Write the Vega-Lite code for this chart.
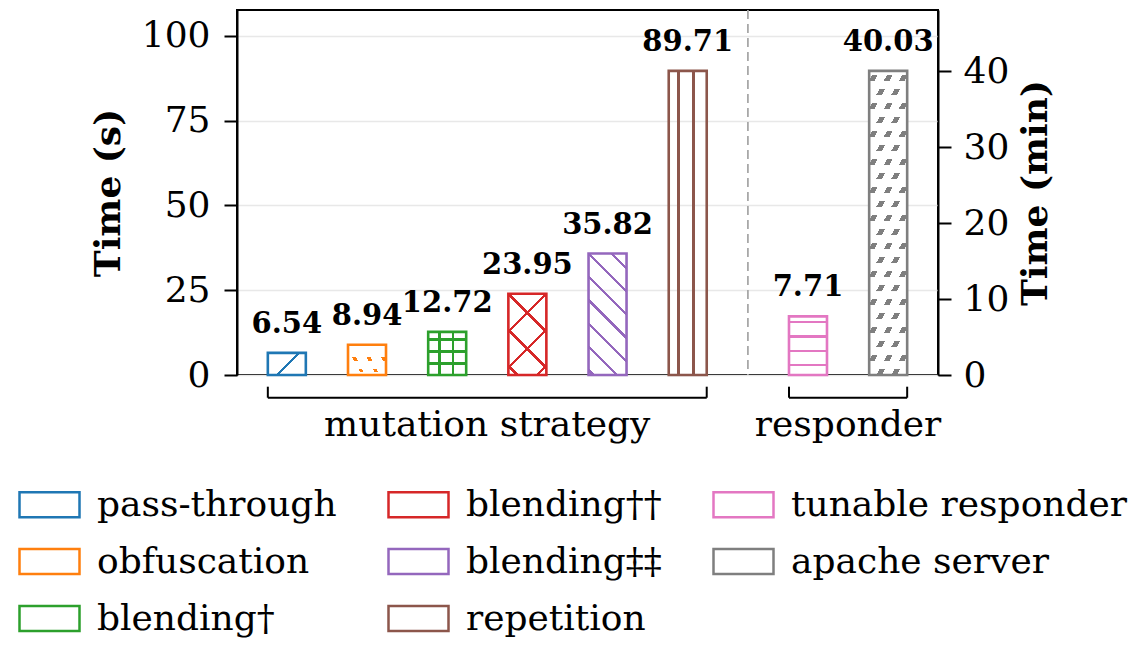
{
  "$schema": "https://vega.github.io/schema/vega-lite/v6.json",
  "width": 701,
  "height": 365,
  "autosize": "none",
  "padding": {"left": 237, "top": 10, "right": 200, "bottom": 275},
  "background": "white",
  "config": {"view": {"stroke": "black", "strokeWidth": 2}, "font": "DejaVu Serif"},
  "data": {"values": [
    {"name": "pass-through", "unit": "s", "value": 6.54},
    {"name": "obfuscation", "unit": "s", "value": 8.94},
    {"name": "blending†", "unit": "s", "value": 12.72},
    {"name": "blending††", "unit": "s", "value": 23.95},
    {"name": "blending‡‡", "unit": "s", "value": 35.82},
    {"name": "repetition", "unit": "s", "value": 89.71},
    {"name": "tunable responder", "unit": "min", "value": 7.71},
    {"name": "apache server", "unit": "min", "value": 40.03}
  ]},
  "layer": [
    {
      "transform": [{"filter": "datum.unit === 's'"}],
      "encoding": {
        "x": {"field": "name", "type": "nominal", "axis": null, "scale": {"domain": ["pass-through", "_1", "obfuscation", "_2", "blending†", "_3", "blending††", "_4", "blending‡‡", "_5", "repetition", "_6", "_7", "tunable responder", "_8", "apache server"], "paddingInner": 0, "paddingOuter": 0.743}},
        "y": {"field": "value", "type": "quantitative", "scale": {"domain": [0, 107.65], "nice": false},
          "axis": {"orient": "left", "title": "Time (s)", "values": [0, 25, 50, 75, 100], "grid": true, "gridColor": "#e8e8e8", "gridWidth": 1.5, "domainColor": "black", "domainWidth": 2, "tickColor": "black", "tickWidth": 2, "tickSize": 13, "labelFontSize": 36, "labelFont": "DejaVu Serif", "labelColor": "black", "labelPadding": 14, "titleFont": "DejaVu Serif", "titleFontSize": 36, "titleFontWeight": "bold", "titleColor": "black", "titlePadding": 14}}
      },
      "layer": [
        {"transform": [{"filter": "datum.name === 'pass-through'"}],
         "mark": {"type": "bar", "width": 38, "strokeWidth": 0, "fill": {"gradient": "linear", "x1": 0, "y1": 0, "x2": 1.1813, "y2": 0.6892, "stops": [
           {"offset": 0, "color": "rgba(255,255,255,0)"}, {"offset": 0.492, "color": "rgba(255,255,255,0)"}, {"offset": 0.492, "color": "#1f77b4"}, {"offset": 0.548, "color": "#1f77b4"}, {"offset": 0.548, "color": "rgba(255,255,255,0)"}, {"offset": 1, "color": "rgba(255,255,255,0)"}]}}},
        {"transform": [{"filter": "datum.name === 'obfuscation'"}],
         "mark": {"type": "bar", "width": 38, "strokeWidth": 0, "fill": {"gradient": "linear", "x1": 0, "y1": 0, "x2": 0, "y2": 1, "stops": [
           {"offset": 0, "color": "rgba(255,255,255,0)"}, {"offset": 0.4124, "color": "rgba(255,255,255,0)"}, {"offset": 0.4124, "color": "#ff7f0e"}, {"offset": 0.5312, "color": "#ff7f0e"}, {"offset": 0.5312, "color": "rgba(255,255,255,0)"}, {"offset": 0.7984, "color": "rgba(255,255,255,0)"}, {"offset": 0.7984, "color": "#ff7f0e"}, {"offset": 0.9172, "color": "#ff7f0e"}, {"offset": 0.9172, "color": "rgba(255,255,255,0)"}, {"offset": 1, "color": "rgba(255,255,255,0)"}]}}},
        {"transform": [{"filter": "datum.name === 'obfuscation'"}],
         "mark": {"type": "bar", "width": 38, "strokeWidth": 0, "fill": {"gradient": "linear", "x1": 0, "y1": 1, "x2": 1.2071, "y2": 0.5062, "stops": [
           {"offset": 0, "color": "white"}, {"offset": 0.2503, "color": "white"}, {"offset": 0.2503, "color": "rgba(255,255,255,0)"}, {"offset": 0.3179, "color": "rgba(255,255,255,0)"}, {"offset": 0.3179, "color": "white"}, {"offset": 0.5211, "color": "white"}, {"offset": 0.5211, "color": "rgba(255,255,255,0)"}, {"offset": 0.5887, "color": "rgba(255,255,255,0)"}, {"offset": 0.5887, "color": "white"}, {"offset": 0.7919, "color": "white"}, {"offset": 0.7919, "color": "rgba(255,255,255,0)"}, {"offset": 0.8595, "color": "rgba(255,255,255,0)"}, {"offset": 0.8595, "color": "white"}, {"offset": 1, "color": "white"}]}}},
        {"transform": [{"filter": "datum.name === 'blending†'"}],
         "mark": {"type": "bar", "width": 38, "strokeWidth": 0, "fill": {"gradient": "linear", "x1": 0, "y1": 0, "x2": 1, "y2": 0, "stops": [
           {"offset": 0, "color": "rgba(255,255,255,0)"}, {"offset": 0.262, "color": "rgba(255,255,255,0)"}, {"offset": 0.262, "color": "#2ca02c"}, {"offset": 0.332, "color": "#2ca02c"}, {"offset": 0.332, "color": "rgba(255,255,255,0)"}, {"offset": 0.615, "color": "rgba(255,255,255,0)"}, {"offset": 0.615, "color": "#2ca02c"}, {"offset": 0.685, "color": "#2ca02c"}, {"offset": 0.685, "color": "rgba(255,255,255,0)"}, {"offset": 1, "color": "rgba(255,255,255,0)"}]}}},
        {"transform": [{"filter": "datum.name === 'blending†'"}],
         "mark": {"type": "bar", "width": 38, "strokeWidth": 0, "fill": {"gradient": "linear", "x1": 0, "y1": 0, "x2": 0, "y2": 1, "stops": [
           {"offset": 0, "color": "rgba(255,255,255,0)"}, {"offset": 0.141, "color": "rgba(255,255,255,0)"}, {"offset": 0.141, "color": "#2ca02c"}, {"offset": 0.203, "color": "#2ca02c"}, {"offset": 0.203, "color": "rgba(255,255,255,0)"}, {"offset": 0.428, "color": "rgba(255,255,255,0)"}, {"offset": 0.428, "color": "#2ca02c"}, {"offset": 0.49, "color": "#2ca02c"}, {"offset": 0.49, "color": "rgba(255,255,255,0)"}, {"offset": 0.697, "color": "rgba(255,255,255,0)"}, {"offset": 0.697, "color": "#2ca02c"}, {"offset": 0.759, "color": "#2ca02c"}, {"offset": 0.759, "color": "rgba(255,255,255,0)"}, {"offset": 1, "color": "rgba(255,255,255,0)"}]}}},
        {"transform": [{"filter": "datum.name === 'blending††'"}],
         "mark": {"type": "bar", "width": 38, "strokeWidth": 0, "fill": {"gradient": "linear", "x1": 0, "y1": 1, "x2": 0.5635, "y2": -0.2043, "stops": [
           {"offset": 0, "color": "rgba(255,255,255,0)"}, {"offset": 0.0622, "color": "rgba(255,255,255,0)"}, {"offset": 0.0622, "color": "#d62728"}, {"offset": 0.0922, "color": "#d62728"}, {"offset": 0.0922, "color": "rgba(255,255,255,0)"}, {"offset": 0.3642, "color": "rgba(255,255,255,0)"}, {"offset": 0.3642, "color": "#d62728"}, {"offset": 0.3942, "color": "#d62728"}, {"offset": 0.3942, "color": "rgba(255,255,255,0)"}, {"offset": 0.6662, "color": "rgba(255,255,255,0)"}, {"offset": 0.6662, "color": "#d62728"}, {"offset": 0.6962, "color": "#d62728"}, {"offset": 0.6962, "color": "rgba(255,255,255,0)"}, {"offset": 0.9682, "color": "rgba(255,255,255,0)"}, {"offset": 0.9682, "color": "#d62728"}, {"offset": 0.9982, "color": "#d62728"}, {"offset": 0.9982, "color": "rgba(255,255,255,0)"}, {"offset": 1, "color": "rgba(255,255,255,0)"}]}}},
        {"transform": [{"filter": "datum.name === 'blending††'"}],
         "mark": {"type": "bar", "width": 38, "strokeWidth": 0, "fill": {"gradient": "linear", "x1": 0, "y1": 0, "x2": 0.5635, "y2": 1.2043, "stops": [
           {"offset": 0, "color": "rgba(255,255,255,0)"}, {"offset": 0.0018, "color": "rgba(255,255,255,0)"}, {"offset": 0.0018, "color": "#d62728"}, {"offset": 0.0318, "color": "#d62728"}, {"offset": 0.0318, "color": "rgba(255,255,255,0)"}, {"offset": 0.3038, "color": "rgba(255,255,255,0)"}, {"offset": 0.3038, "color": "#d62728"}, {"offset": 0.3338, "color": "#d62728"}, {"offset": 0.3338, "color": "rgba(255,255,255,0)"}, {"offset": 0.6058, "color": "rgba(255,255,255,0)"}, {"offset": 0.6058, "color": "#d62728"}, {"offset": 0.6358, "color": "#d62728"}, {"offset": 0.6358, "color": "rgba(255,255,255,0)"}, {"offset": 0.9078, "color": "rgba(255,255,255,0)"}, {"offset": 0.9078, "color": "#d62728"}, {"offset": 0.9378, "color": "#d62728"}, {"offset": 0.9378, "color": "rgba(255,255,255,0)"}, {"offset": 1, "color": "rgba(255,255,255,0)"}]}}},
        {"transform": [{"filter": "datum.name === 'blending‡‡'"}],
         "mark": {"type": "bar", "width": 38, "strokeWidth": 0, "fill": {"gradient": "linear", "x1": 0, "y1": 1, "x2": 0.37416, "y2": -0.19582, "stops": [
           {"offset": 0, "color": "rgba(255,255,255,0)"}, {"offset": 0.0207, "color": "rgba(255,255,255,0)"}, {"offset": 0.0207, "color": "#9467bd"}, {"offset": 0.0417, "color": "#9467bd"}, {"offset": 0.0417, "color": "rgba(255,255,255,0)"}, {"offset": 0.1668, "color": "rgba(255,255,255,0)"}, {"offset": 0.1668, "color": "#9467bd"}, {"offset": 0.1878, "color": "#9467bd"}, {"offset": 0.1878, "color": "rgba(255,255,255,0)"}, {"offset": 0.3129, "color": "rgba(255,255,255,0)"}, {"offset": 0.3129, "color": "#9467bd"}, {"offset": 0.3339, "color": "#9467bd"}, {"offset": 0.3339, "color": "rgba(255,255,255,0)"}, {"offset": 0.459, "color": "rgba(255,255,255,0)"}, {"offset": 0.459, "color": "#9467bd"}, {"offset": 0.48, "color": "#9467bd"}, {"offset": 0.48, "color": "rgba(255,255,255,0)"}, {"offset": 0.6051, "color": "rgba(255,255,255,0)"}, {"offset": 0.6051, "color": "#9467bd"}, {"offset": 0.6261, "color": "#9467bd"}, {"offset": 0.6261, "color": "rgba(255,255,255,0)"}, {"offset": 0.7512, "color": "rgba(255,255,255,0)"}, {"offset": 0.7512, "color": "#9467bd"}, {"offset": 0.7722, "color": "#9467bd"}, {"offset": 0.7722, "color": "rgba(255,255,255,0)"}, {"offset": 0.8973, "color": "rgba(255,255,255,0)"}, {"offset": 0.8973, "color": "#9467bd"}, {"offset": 0.9183, "color": "#9467bd"}, {"offset": 0.9183, "color": "rgba(255,255,255,0)"}, {"offset": 1, "color": "rgba(255,255,255,0)"}]}}},
        {"transform": [{"filter": "datum.name === 'repetition'"}],
         "mark": {"type": "bar", "width": 38, "strokeWidth": 0, "fill": {"gradient": "linear", "x1": 0, "y1": 0, "x2": 1, "y2": 0, "stops": [
           {"offset": 0, "color": "rgba(255,255,255,0)"}, {"offset": 0.224, "color": "rgba(255,255,255,0)"}, {"offset": 0.224, "color": "#8c564b"}, {"offset": 0.286, "color": "#8c564b"}, {"offset": 0.286, "color": "rgba(255,255,255,0)"}, {"offset": 0.619, "color": "rgba(255,255,255,0)"}, {"offset": 0.619, "color": "#8c564b"}, {"offset": 0.681, "color": "#8c564b"}, {"offset": 0.681, "color": "rgba(255,255,255,0)"}, {"offset": 1, "color": "rgba(255,255,255,0)"}]}}},
        {"mark": {"type": "bar", "width": 38, "fill": "white", "fillOpacity": 0, "strokeWidth": 2.6},
         "encoding": {"stroke": {"field": "name", "type": "nominal",
           "scale": {"domain": ["pass-through", "obfuscation", "blending†", "blending††", "blending‡‡", "repetition", "tunable responder", "apache server"], "range": ["#1f77b4", "#ff7f0e", "#2ca02c", "#d62728", "#9467bd", "#8c564b", "#e377c2", "#7f7f7f"]},
           "legend": {"title": null, "orient": "none", "legendX": -219, "legendY": 463, "columns": 3, "gridAlign": "each", "symbolType": "M-1,-0.42H1V0.42H-1Z", "symbolSize": 3600, "symbolStrokeWidth": 2.5,
             "labelFont": "DejaVu Serif", "labelFontSize": 36, "labelColor": "black", "labelOffset": 16, "rowPadding": 7, "columnPadding": 46, "labelLimit": 500}}}},
        {"mark": {"type": "text", "font": "DejaVu Serif", "fontWeight": "bold", "fontSize": 29, "dy": -20, "baseline": "alphabetic", "color": "black"},
         "encoding": {"text": {"field": "value", "type": "quantitative", "format": ".2f"}}}
      ]
    },
    {
      "transform": [{"filter": "datum.unit === 'min'"}],
      "encoding": {
        "x": {"field": "name", "type": "nominal", "axis": null, "scale": {"domain": ["pass-through", "_1", "obfuscation", "_2", "blending†", "_3", "blending††", "_4", "blending‡‡", "_5", "repetition", "_6", "_7", "tunable responder", "_8", "apache server"], "paddingInner": 0, "paddingOuter": 0.743}},
        "y": {"field": "value", "type": "quantitative", "scale": {"domain": [0, 48.04], "nice": false},
          "axis": {"orient": "right", "title": "Time (min)", "values": [0, 10, 20, 30, 40], "grid": false, "domainColor": "black", "domainWidth": 2, "tickColor": "black", "tickWidth": 2, "tickSize": 13, "labelFontSize": 36, "labelFont": "DejaVu Serif", "labelColor": "black", "labelPadding": 12, "titleFont": "DejaVu Serif", "titleFontSize": 36, "titleFontWeight": "bold", "titleColor": "black", "titlePadding": 46, "titleAngle": 270}}
      },
      "layer": [
        {"transform": [{"filter": "datum.name === 'tunable responder'"}],
         "mark": {"type": "bar", "width": 38, "strokeWidth": 0, "fill": {"gradient": "linear", "x1": 0, "y1": 0, "x2": 0, "y2": 1, "stops": [
           {"offset": 0, "color": "rgba(255,255,255,0)"}, {"offset": 0.074, "color": "rgba(255,255,255,0)"}, {"offset": 0.074, "color": "#e377c2"}, {"offset": 0.114, "color": "#e377c2"}, {"offset": 0.114, "color": "rgba(255,255,255,0)"}, {"offset": 0.325, "color": "rgba(255,255,255,0)"}, {"offset": 0.325, "color": "#e377c2"}, {"offset": 0.365, "color": "#e377c2"}, {"offset": 0.365, "color": "rgba(255,255,255,0)"}, {"offset": 0.575, "color": "rgba(255,255,255,0)"}, {"offset": 0.575, "color": "#e377c2"}, {"offset": 0.615, "color": "#e377c2"}, {"offset": 0.615, "color": "rgba(255,255,255,0)"}, {"offset": 0.814, "color": "rgba(255,255,255,0)"}, {"offset": 0.814, "color": "#e377c2"}, {"offset": 0.854, "color": "#e377c2"}, {"offset": 0.854, "color": "rgba(255,255,255,0)"}, {"offset": 1, "color": "rgba(255,255,255,0)"}]}}},
        {"transform": [{"filter": "datum.name === 'apache server'"}],
         "mark": {"type": "bar", "width": 38, "strokeWidth": 0, "fill": {"gradient": "linear", "x1": 0, "y1": 0, "x2": 0, "y2": 1, "stops": [
           {"offset": 0, "color": "rgba(255,255,255,0)"},
           {"offset": 0.0138, "color": "rgba(255,255,255,0)"}, {"offset": 0.0138, "color": "#7f7f7f"}, {"offset": 0.0322, "color": "#7f7f7f"}, {"offset": 0.0322, "color": "rgba(255,255,255,0)"},
           {"offset": 0.0599, "color": "rgba(255,255,255,0)"}, {"offset": 0.0599, "color": "#7f7f7f"}, {"offset": 0.0783, "color": "#7f7f7f"}, {"offset": 0.0783, "color": "rgba(255,255,255,0)"},
           {"offset": 0.1059, "color": "rgba(255,255,255,0)"}, {"offset": 0.1059, "color": "#7f7f7f"}, {"offset": 0.1243, "color": "#7f7f7f"}, {"offset": 0.1243, "color": "rgba(255,255,255,0)"},
           {"offset": 0.1519, "color": "rgba(255,255,255,0)"}, {"offset": 0.1519, "color": "#7f7f7f"}, {"offset": 0.1703, "color": "#7f7f7f"}, {"offset": 0.1703, "color": "rgba(255,255,255,0)"},
           {"offset": 0.198, "color": "rgba(255,255,255,0)"}, {"offset": 0.198, "color": "#7f7f7f"}, {"offset": 0.2164, "color": "#7f7f7f"}, {"offset": 0.2164, "color": "rgba(255,255,255,0)"},
           {"offset": 0.244, "color": "rgba(255,255,255,0)"}, {"offset": 0.244, "color": "#7f7f7f"}, {"offset": 0.2624, "color": "#7f7f7f"}, {"offset": 0.2624, "color": "rgba(255,255,255,0)"},
           {"offset": 0.29, "color": "rgba(255,255,255,0)"}, {"offset": 0.29, "color": "#7f7f7f"}, {"offset": 0.3084, "color": "#7f7f7f"}, {"offset": 0.3084, "color": "rgba(255,255,255,0)"},
           {"offset": 0.3361, "color": "rgba(255,255,255,0)"}, {"offset": 0.3361, "color": "#7f7f7f"}, {"offset": 0.3545, "color": "#7f7f7f"}, {"offset": 0.3545, "color": "rgba(255,255,255,0)"},
           {"offset": 0.3821, "color": "rgba(255,255,255,0)"}, {"offset": 0.3821, "color": "#7f7f7f"}, {"offset": 0.4005, "color": "#7f7f7f"}, {"offset": 0.4005, "color": "rgba(255,255,255,0)"},
           {"offset": 0.4282, "color": "rgba(255,255,255,0)"}, {"offset": 0.4282, "color": "#7f7f7f"}, {"offset": 0.4466, "color": "#7f7f7f"}, {"offset": 0.4466, "color": "rgba(255,255,255,0)"},
           {"offset": 0.4742, "color": "rgba(255,255,255,0)"}, {"offset": 0.4742, "color": "#7f7f7f"}, {"offset": 0.4926, "color": "#7f7f7f"}, {"offset": 0.4926, "color": "rgba(255,255,255,0)"},
           {"offset": 0.5202, "color": "rgba(255,255,255,0)"}, {"offset": 0.5202, "color": "#7f7f7f"}, {"offset": 0.5386, "color": "#7f7f7f"}, {"offset": 0.5386, "color": "rgba(255,255,255,0)"},
           {"offset": 0.5663, "color": "rgba(255,255,255,0)"}, {"offset": 0.5663, "color": "#7f7f7f"}, {"offset": 0.5847, "color": "#7f7f7f"}, {"offset": 0.5847, "color": "rgba(255,255,255,0)"},
           {"offset": 0.6123, "color": "rgba(255,255,255,0)"}, {"offset": 0.6123, "color": "#7f7f7f"}, {"offset": 0.6307, "color": "#7f7f7f"}, {"offset": 0.6307, "color": "rgba(255,255,255,0)"},
           {"offset": 0.6583, "color": "rgba(255,255,255,0)"}, {"offset": 0.6583, "color": "#7f7f7f"}, {"offset": 0.6767, "color": "#7f7f7f"}, {"offset": 0.6767, "color": "rgba(255,255,255,0)"},
           {"offset": 0.7044, "color": "rgba(255,255,255,0)"}, {"offset": 0.7044, "color": "#7f7f7f"}, {"offset": 0.7228, "color": "#7f7f7f"}, {"offset": 0.7228, "color": "rgba(255,255,255,0)"},
           {"offset": 0.7504, "color": "rgba(255,255,255,0)"}, {"offset": 0.7504, "color": "#7f7f7f"}, {"offset": 0.7688, "color": "#7f7f7f"}, {"offset": 0.7688, "color": "rgba(255,255,255,0)"},
           {"offset": 0.7965, "color": "rgba(255,255,255,0)"}, {"offset": 0.7965, "color": "#7f7f7f"}, {"offset": 0.8149, "color": "#7f7f7f"}, {"offset": 0.8149, "color": "rgba(255,255,255,0)"},
           {"offset": 0.8425, "color": "rgba(255,255,255,0)"}, {"offset": 0.8425, "color": "#7f7f7f"}, {"offset": 0.8609, "color": "#7f7f7f"}, {"offset": 0.8609, "color": "rgba(255,255,255,0)"},
           {"offset": 0.8885, "color": "rgba(255,255,255,0)"}, {"offset": 0.8885, "color": "#7f7f7f"}, {"offset": 0.9069, "color": "#7f7f7f"}, {"offset": 0.9069, "color": "rgba(255,255,255,0)"},
           {"offset": 0.9346, "color": "rgba(255,255,255,0)"}, {"offset": 0.9346, "color": "#7f7f7f"}, {"offset": 0.953, "color": "#7f7f7f"}, {"offset": 0.953, "color": "rgba(255,255,255,0)"},
           {"offset": 0.9806, "color": "rgba(255,255,255,0)"}, {"offset": 0.9806, "color": "#7f7f7f"}, {"offset": 0.999, "color": "#7f7f7f"}, {"offset": 0.999, "color": "rgba(255,255,255,0)"},
           {"offset": 1, "color": "rgba(255,255,255,0)"}]}}},
        {"transform": [{"filter": "datum.name === 'apache server'"}],
         "mark": {"type": "bar", "width": 38, "strokeWidth": 0, "fill": {"gradient": "linear", "x1": 0, "y1": 0, "x2": 0.2728, "y2": 1.1696, "stops": [
           {"offset": 0, "color": "white"}, {"offset": 0.0247, "color": "white"}, {"offset": 0.0247, "color": "rgba(255,255,255,0)"}, {"offset": 0.0525, "color": "rgba(255,255,255,0)"},
           {"offset": 0.0525, "color": "white"}, {"offset": 0.0993, "color": "white"}, {"offset": 0.0993, "color": "rgba(255,255,255,0)"}, {"offset": 0.1271, "color": "rgba(255,255,255,0)"},
           {"offset": 0.1271, "color": "white"}, {"offset": 0.174, "color": "white"}, {"offset": 0.174, "color": "rgba(255,255,255,0)"}, {"offset": 0.2018, "color": "rgba(255,255,255,0)"},
           {"offset": 0.2018, "color": "white"}, {"offset": 0.2486, "color": "white"}, {"offset": 0.2486, "color": "rgba(255,255,255,0)"}, {"offset": 0.2765, "color": "rgba(255,255,255,0)"},
           {"offset": 0.2765, "color": "white"}, {"offset": 0.3233, "color": "white"}, {"offset": 0.3233, "color": "rgba(255,255,255,0)"}, {"offset": 0.3511, "color": "rgba(255,255,255,0)"},
           {"offset": 0.3511, "color": "white"}, {"offset": 0.398, "color": "white"}, {"offset": 0.398, "color": "rgba(255,255,255,0)"}, {"offset": 0.4258, "color": "rgba(255,255,255,0)"},
           {"offset": 0.4258, "color": "white"}, {"offset": 0.4726, "color": "white"}, {"offset": 0.4726, "color": "rgba(255,255,255,0)"}, {"offset": 0.5004, "color": "rgba(255,255,255,0)"},
           {"offset": 0.5004, "color": "white"}, {"offset": 0.5473, "color": "white"}, {"offset": 0.5473, "color": "rgba(255,255,255,0)"}, {"offset": 0.5751, "color": "rgba(255,255,255,0)"},
           {"offset": 0.5751, "color": "white"}, {"offset": 0.6219, "color": "white"}, {"offset": 0.6219, "color": "rgba(255,255,255,0)"}, {"offset": 0.6498, "color": "rgba(255,255,255,0)"},
           {"offset": 0.6498, "color": "white"}, {"offset": 0.6966, "color": "white"}, {"offset": 0.6966, "color": "rgba(255,255,255,0)"}, {"offset": 0.7244, "color": "rgba(255,255,255,0)"},
           {"offset": 0.7244, "color": "white"}, {"offset": 0.7713, "color": "white"}, {"offset": 0.7713, "color": "rgba(255,255,255,0)"}, {"offset": 0.7991, "color": "rgba(255,255,255,0)"},
           {"offset": 0.7991, "color": "white"}, {"offset": 0.8459, "color": "white"}, {"offset": 0.8459, "color": "rgba(255,255,255,0)"}, {"offset": 0.8737, "color": "rgba(255,255,255,0)"},
           {"offset": 0.8737, "color": "white"}, {"offset": 0.9206, "color": "white"}, {"offset": 0.9206, "color": "rgba(255,255,255,0)"}, {"offset": 0.9484, "color": "rgba(255,255,255,0)"},
           {"offset": 0.9484, "color": "white"}, {"offset": 1, "color": "white"}]}}},
        {"mark": {"type": "bar", "width": 38, "fill": "white", "fillOpacity": 0, "strokeWidth": 2.6},
         "encoding": {"stroke": {"field": "name", "type": "nominal",
           "scale": {"domain": ["pass-through", "obfuscation", "blending†", "blending††", "blending‡‡", "repetition", "tunable responder", "apache server"], "range": ["#1f77b4", "#ff7f0e", "#2ca02c", "#d62728", "#9467bd", "#8c564b", "#e377c2", "#7f7f7f"]}}}},
        {"mark": {"type": "text", "font": "DejaVu Serif", "fontWeight": "bold", "fontSize": 29, "dy": -20, "baseline": "alphabetic", "color": "black"},
         "encoding": {"text": {"field": "value", "type": "quantitative", "format": ".2f"}}}
      ]
    },
    {
      "data": {"values": [
        {"label": "mutation strategy", "first": "pass-through", "center": "_3", "last": "repetition"},
        {"label": "responder", "first": "tunable responder", "center": "_8", "last": "apache server"}
      ]},
      "layer": [
        {"mark": {"type": "rule", "color": "black", "strokeWidth": 2, "xOffset": -19, "x2Offset": 19},
         "encoding": {
           "x": {"field": "first", "type": "nominal", "axis": null, "scale": {"domain": ["pass-through", "_1", "obfuscation", "_2", "blending†", "_3", "blending††", "_4", "blending‡‡", "_5", "repetition", "_6", "_7", "tunable responder", "_8", "apache server"], "paddingInner": 0, "paddingOuter": 0.743}},
           "x2": {"field": "last"},
           "y": {"datum": -6.7, "type": "quantitative", "scale": {"domain": [0, 107.65], "nice": false}, "axis": null}}},
        {"mark": {"type": "rule", "color": "black", "strokeWidth": 2, "xOffset": -19},
         "encoding": {
           "x": {"field": "first", "type": "nominal", "axis": null},
           "y": {"datum": -6.7, "type": "quantitative", "scale": {"domain": [0, 107.65], "nice": false}, "axis": null},
           "y2": {"datum": -3.45}}},
        {"mark": {"type": "rule", "color": "black", "strokeWidth": 2, "xOffset": 19},
         "encoding": {
           "x": {"field": "last", "type": "nominal", "axis": null},
           "y": {"datum": -6.7, "type": "quantitative", "scale": {"domain": [0, 107.65], "nice": false}, "axis": null},
           "y2": {"datum": -3.45}}},
        {"mark": {"type": "text", "font": "DejaVu Serif", "fontSize": 36, "dy": 38, "baseline": "alphabetic", "color": "black"},
         "encoding": {
           "x": {"field": "center", "type": "nominal", "axis": null},
           "y": {"datum": -6.7, "type": "quantitative", "scale": {"domain": [0, 107.65], "nice": false}, "axis": null},
           "text": {"field": "label"}}},
        {"data": {"values": [{"kind": "divider"}]},
         "mark": {"type": "rule", "color": "#a8a8a8", "strokeWidth": 1.8, "strokeDash": [9, 5], "xOffset": -20},
         "encoding": {"x": {"datum": "_7", "type": "nominal", "axis": null}}}
      ]
    }
  ],
  "resolve": {"scale": {"y": "independent"}}
}
